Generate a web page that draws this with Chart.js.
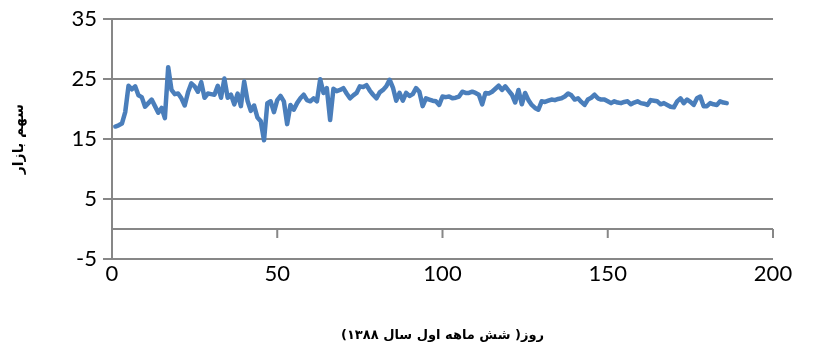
<!DOCTYPE html>
<html>
<head>
<meta charset="utf-8">
<style>
    html, body { margin: 0; padding: 0; background: #fff; }
    .chart-container { position: relative; width: 820px; height: 351px; }
</style>
</head>
<body>
<div class="chart-container">
    <canvas id="myChart"></canvas>
</div>

<script src="https://cdn.jsdelivr.net/npm/chart.js"></script>

<script>

    // market share per day (first six months of 1388)
    const marketShare = [
        17.1, 17.3, 17.6, 19.5, 23.9, 23.3, 23.8, 22.3, 22.0, 20.4,
        21.0, 21.6, 20.5, 19.4, 20.2, 18.5, 27.0, 23.2, 22.5, 22.6,
        21.8, 20.6, 22.8, 24.3, 23.8, 22.9, 24.5, 21.9, 22.6, 22.5,
        22.4, 23.9, 21.9, 25.1, 21.9, 22.4, 20.8, 22.6, 20.5, 24.6,
        21.4, 19.7, 20.6, 18.6, 18.0, 14.8, 21.0, 21.3, 19.5, 21.5,
        22.2, 21.3, 17.5, 20.7, 19.9, 21.0, 21.8, 22.4, 21.5, 21.3,
        21.8, 21.3, 25.0, 22.7, 23.5, 18.2, 23.4, 23.0, 23.2, 23.5,
        22.6, 21.8, 22.3, 22.7, 23.8, 23.7, 24.0, 23.1, 22.4, 21.8,
        22.8, 23.2, 23.8, 24.9, 23.6, 21.4, 22.7, 21.4, 22.7, 22.2,
        22.5, 23.5, 22.9, 20.5, 21.8, 21.6, 21.4, 21.3, 20.7, 22.1,
        22.0, 22.1, 21.8, 21.9, 22.1, 22.9, 22.7, 22.7, 22.9, 22.7,
        22.4, 20.8, 22.7, 22.6, 22.9, 23.4, 23.9, 23.2, 23.8, 23.1,
        22.4, 21.1, 23.2, 20.8, 22.7, 21.5, 20.7, 20.2, 19.9, 21.3,
        21.2, 21.4, 21.6, 21.5, 21.7, 21.8, 22.1, 22.6, 22.3, 21.6,
        21.8, 21.2, 20.7, 21.6, 21.9, 22.4, 21.8, 21.6, 21.6, 21.3,
        21.0, 21.3, 21.1, 21.0, 21.2, 21.3, 20.8, 21.1, 21.3, 21.0,
        20.9, 20.7, 21.5, 21.4, 21.3, 20.8, 21.0, 20.7, 20.4, 20.3,
        21.3, 21.8, 21.0, 21.6, 21.2, 20.7, 21.8, 22.1, 20.5, 20.5,
        21.0, 20.8, 20.7, 21.3, 21.1, 21.0
    ];
    const days = marketShare.map((v, i) => i + 1);

    const xTicks = [0, 50, 100, 150, 200];
    const yTicks = [-5, 5, 15, 25, 35];

    const xTitle = 'روز( شش ماهه اول سال ۱۳۸۸)';
    const yTitle = 'سهم بازار';

    const gridColor = '#878787';
    const tickFont = { family: "Lato, 'DejaVu Sans'", size: 22 };

    // the horizontal axis crosses at y = 0, with its tick marks hanging down
    const zeroAxisPlugin = {
        id: 'zeroAxis',
        beforeDatasetsDraw(chart) {
            const { ctx, chartArea, scales } = chart;
            const y0 = scales.y.getPixelForValue(0);
            ctx.save();
            ctx.strokeStyle = gridColor;
            ctx.lineWidth = 2;
            ctx.beginPath();
            ctx.moveTo(chartArea.left, y0);
            ctx.lineTo(chartArea.right, y0);
            xTicks.forEach(t => {
                if (t === 0) return;
                const px = scales.x.getPixelForValue(t);
                ctx.moveTo(px, y0);
                ctx.lineTo(px, y0 + 9);
            });
            ctx.stroke();
            ctx.restore();
        }
    };

    const ctx = document.getElementById('myChart').getContext('2d');

    new Chart(ctx, {
        type: 'line',
        data: {
            datasets: [{
                data: days.map((d, i) => ({ x: d, y: marketShare[i] })),
                borderColor: '#4a7ebb',
                borderWidth: 4.5,
                borderJoinStyle: 'round',
                borderCapStyle: 'round',
                pointRadius: 0,
                tension: 0,
                fill: false
            }]
        },
        options: {
            responsive: true,
            maintainAspectRatio: false,
            animation: false,
            layout: { padding: { top: 17, right: 47, left: 0, bottom: 0 } },
            plugins: {
                legend: { display: false },
                tooltip: { enabled: false }
            },
            scales: {
                x: {
                    type: 'linear',
                    min: 0,
                    max: 200,
                    afterBuildTicks: scale => { scale.ticks = xTicks.map(v => ({ value: v })); },
                    grid: { display: false, drawTicks: false },
                    border: { display: false },
                    ticks: { color: '#000', font: tickFont, padding: 2, maxRotation: 0 },
                    title: {
                        display: true,
                        text: xTitle,
                        color: '#000',
                        font: { family: "'DejaVu Sans', Lato", size: 13, weight: 'bold' },
                        padding: { top: 0, bottom: 8 }
                    },
                    afterFit: scale => { scale.height = 92; }
                },
                y: {
                    min: -5,
                    max: 35,
                    afterBuildTicks: scale => { scale.ticks = yTicks.map(v => ({ value: v })); },
                    grid: { color: gridColor, lineWidth: 2, tickLength: 9, drawTicks: true },
                    border: { display: true, color: gridColor, width: 2 },
                    ticks: { color: '#000', font: tickFont, padding: 6 },
                    title: {
                        display: true,
                        text: yTitle,
                        color: '#000',
                        font: { family: "'DejaVu Sans', Lato", size: 14, weight: 'bold' },
                        padding: { top: 11, bottom: 0 }
                    },
                    afterFit: scale => { scale.width = 112; }
                }
            }
        },
        plugins: [zeroAxisPlugin]
    });

</script>
</body>
</html>
